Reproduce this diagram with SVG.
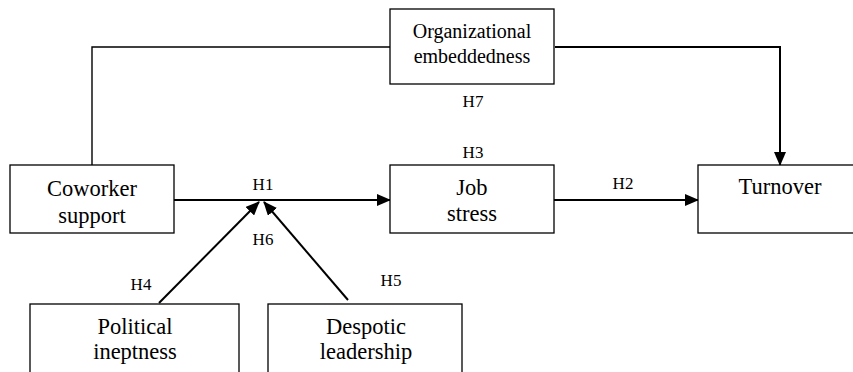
<svg xmlns="http://www.w3.org/2000/svg" width="853" height="372" viewBox="0 0 853 372">
<style>
.box{fill:#fff;stroke:#000;stroke-width:1.3}
text{font-family:'Liberation Serif','Times New Roman',serif;fill:#000;text-anchor:middle}
.t{font-size:22.5px}
.s{font-size:20px}
.h{font-size:17px}
.c{fill:none;stroke:#000;stroke-width:2}
.c1{fill:none;stroke:#000;stroke-width:1.4}
</style>
<defs>
<marker id="ah" markerUnits="userSpaceOnUse" markerWidth="14" markerHeight="12" refX="13" refY="6" orient="auto">
<path d="M0,0 L14,6 L0,12 Z" fill="#000"/>
</marker>
</defs>
<g id="connectors">
<polyline class="c1" points="92,165 92,47 390,47"/>
<polyline class="c" points="555,47 780,47 780,165" marker-end="url(#ah)"/>
<line class="c" x1="174" y1="200" x2="390" y2="200" marker-end="url(#ah)"/>
<line class="c" x1="554" y1="200" x2="698" y2="200" marker-end="url(#ah)"/>
<line class="c" x1="159" y1="303" x2="259" y2="202" marker-end="url(#ah)"/>
<line class="c" x1="348" y1="300" x2="264" y2="202" marker-end="url(#ah)"/>
</g>
<g id="organizational-embeddedness">
<rect class="box" x="390" y="9" width="164" height="75"/>
<text class="s" x="472" y="38">Organizational</text>
<text class="s" x="472" y="63">embeddedness</text>
</g>
<g id="coworker-support">
<rect class="box" x="10" y="165" width="164" height="68"/>
<text class="t" x="92" y="196">Coworker</text>
<text class="t" x="92" y="223">support</text>
</g>
<g id="job-stress">
<rect class="box" x="390" y="165" width="164" height="68"/>
<text class="t" x="472" y="195">Job</text>
<text class="t" x="472" y="221">stress</text>
</g>
<g id="turnover">
<rect class="box" x="698" y="165" width="170" height="68"/>
<text class="t" x="780" y="194">Turnover</text>
</g>
<g id="political-ineptness">
<rect class="box" x="30" y="304" width="209" height="80"/>
<text class="t" x="135" y="334">Political</text>
<text class="t" x="135" y="359">ineptness</text>
</g>
<g id="despotic-leadership">
<rect class="box" x="268" y="304" width="194" height="80"/>
<text class="t" x="366" y="334">Despotic</text>
<text class="t" x="366" y="359">leadership</text>
</g>
<g id="labels">
<text class="h" x="473" y="107">H7</text>
<text class="h" x="263" y="190">H1</text>
<text class="h" x="473" y="158">H3</text>
<text class="h" x="623" y="189">H2</text>
<text class="h" x="263" y="245">H6</text>
<text class="h" x="141" y="290">H4</text>
<text class="h" x="391" y="286">H5</text>
</g>
</svg>
